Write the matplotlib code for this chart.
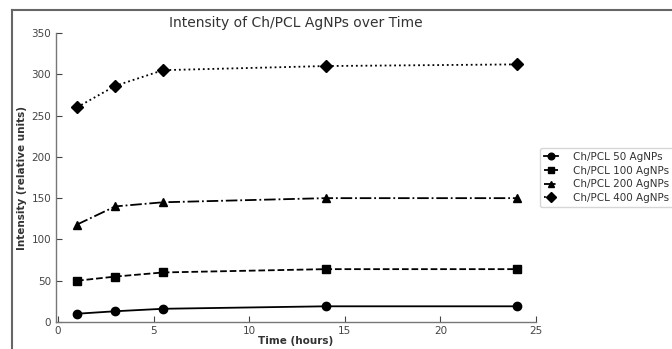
import numpy as np
import matplotlib
matplotlib.use("Agg")
import matplotlib.pyplot as plt
from matplotlib.lines import Line2D

# donnees
temps = [1, 3, 5.5, 14, 24]
i50 = [10, 13, 16, 19, 19]
i100 = [50, 55, 60, 64, 64]
i200 = [118, 140, 145, 150, 150]
i400 = [260, 286, 305, 310, 312]
noms = ["Ch/PCL 50 AgNPs", "Ch/PCL 100 AgNPs", "Ch/PCL 200 AgNPs", "Ch/PCL 400 AgNPs"]
xticks = [0, 5, 10, 15, 20, 25]
yticks = [0, 50, 100, 150, 200, 250, 300, 350]

fig = plt.figure(figsize=(6.72, 3.49), dpi=100)
ax = fig.add_axes([0.0833, 0.0774, 0.7143, 0.828])

styles = [('-', 'o'), ('--', 's'), ('-.', '^'), (':', 'D')]
for y, nom, (ls, mk) in zip([i50, i100, i200, i400], noms, styles):
    ax.plot(temps, y, color='black', linestyle=ls, marker=mk, markersize=6,
            linewidth=1.3, label=nom)

ax.set_xlim(-0.1, 25)
ax.set_ylim(0, 350)
ax.set_xticks(xticks)
ax.set_yticks(yticks)
ax.tick_params(direction='in', length=4, labelsize=7.5, colors='#444444')
ax.tick_params(axis='x', pad=3)
for s in ['top', 'right']:
    ax.spines[s].set_visible(False)
for s in ['left', 'bottom']:
    ax.spines[s].set_color('#777777')
    ax.spines[s].set_linewidth(1.0)

ax.set_title("Intensity of Ch/PCL AgNPs over Time", fontsize=10, color='#333333', pad=4)
ax.set_xlabel("Time (hours)", fontsize=7.5, fontweight='bold', color='#333333', labelpad=0)
ax.set_ylabel("Intensity (relative units)", fontsize=7.5, fontweight='bold', color='#333333', labelpad=3)

leg = ax.legend(loc='center left', bbox_to_anchor=(1.0, 0.5), fontsize=7.5,
                handlelength=1.3, handletextpad=1.5, labelspacing=0.35, markerscale=0.8,
                borderaxespad=0.4, labelcolor='#333333')

# cadre gris de la capture
fig.add_artist(Line2D([0.018, 1.0], [0.97, 0.97], color='#666666', linewidth=1.5))
fig.add_artist(Line2D([0.018, 0.018], [0.0, 0.97], color='#666666', linewidth=1.5))

fig.savefig("out.png", dpi=100)
